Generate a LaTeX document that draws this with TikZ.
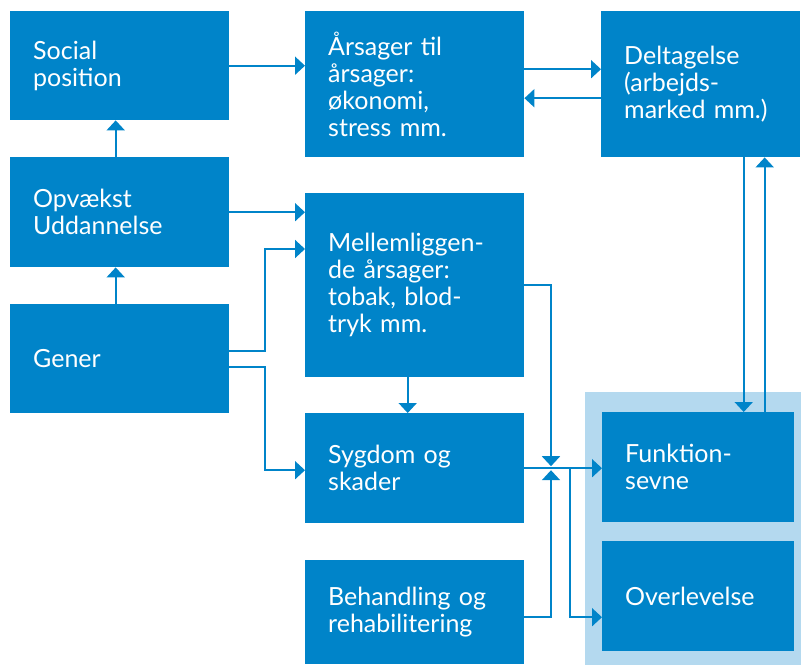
\documentclass[tikz,border=0pt]{standalone}
\usepackage{fontspec}
\setmainfont{Lato}
\usepackage{xcolor}
\usetikzlibrary{calc, arrows.meta, positioning}

\definecolor{boxblue}{RGB}{0,132,201}
\definecolor{paleblue}{RGB}{180,217,239}

\begin{document}
\begin{tikzpicture}[x=1pt, y=-1pt, font=\fontsize{25}{27}\selectfont]
		\tikzstyle{box} = [fill=boxblue, text=white, anchor=north west, rectangle, inner xsep=23pt, inner ysep=0pt, align=left]
		\tikzstyle{arrow} = [draw=boxblue, line width=2pt, -{Triangle[length=10pt, width=18pt]}]

		\useasboundingbox (0, 0) rectangle (801, 665);
		\fill[paleblue] (585, 392) rectangle (801, 665);

		\node[box, text width=173pt, minimum height=109pt]	at (10, 11)		(soc)	{Social\\position};
		\node[box, text width=173pt, minimum height=110pt]	at (10, 157)	(opv)	{Opvækst\\Uddannelse};
		\node[box, text width=173pt, minimum height=109pt]	at (10, 304)	(gen)	{Gener};

		\node[box, text width=173pt, minimum height=146pt]	at (305, 11)	(aars)	{Årsager~til\\årsager:\\økonomi,\\stress~mm.};
		\node[box, text width=173pt, minimum height=184pt]	at (305, 193)	(mel)	{Mellemliggen-\\de~årsager:\\tobak,~blod-\\tryk~mm.};
		\node[box, text width=173pt, minimum height=110pt]	at (305, 413)	(syg)	{Sygdom~og\\skader};
		\node[box, text width=173pt, minimum height=104pt]	at (305, 560)	(beh)	{Behandling~og\\rehabilitering};

		\node[box, text width=153pt, minimum height=146pt]	at (601, 11)	(del)	{Deltagelse\\(arbejds-\\marked~mm.)};
		\node[box, text width=146pt, minimum height=110pt]	at (602, 412)	(fun)	{Funktion-\\sevne};
		\node[box, text width=146pt, minimum height=110pt]	at (602, 541)	(ove)	{Overlevelse};

		\coordinate (gx) at (265, 0);
		\coordinate (jx) at (551, 0);
		\coordinate (bx) at (570, 0);

		\draw [arrow] (soc.east) -- (soc.east -| aars.west);
		\draw [arrow] ([xshift=-4pt]opv.north) -- ([xshift=-4pt]soc.south);
		\draw [arrow] ([xshift=-4pt]gen.north) -- ([xshift=-4pt]opv.south);
		\draw [arrow] (opv.east) -- (opv.east -| mel.west);
		\draw [arrow] ([yshift=8pt]gen.east) -- ([yshift=8pt]gen.east -| gx) |- ([yshift=-56pt]mel.north west);
		\draw [arrow] ([yshift=-8pt]gen.east) -- ([yshift=-8pt]gen.east -| gx) |- ([yshift=-2pt]syg.west);
		\draw [arrow] ([xshift=-7pt]mel.south) -- ([xshift=-7pt]syg.north);

		\draw [arrow] ([yshift=15pt]aars.east) -- ([yshift=15pt]aars.east -| del.west);
		\draw [arrow] ([yshift=-14pt]del.west) -- ([yshift=-14pt]del.west -| aars.east);
		\draw [arrow] ([xshift=43pt]del.south) -- ([xshift=43pt]del.south |- fun.north);
		\draw [arrow] ([xshift=64pt]del.south |- fun.north) -- ([xshift=64pt]del.south);

		\draw [arrow] (syg.east) -- (syg.east -| fun.west);
		\draw [arrow] (mel.east) -| ([yshift=2pt]syg.east -| jx);
		\draw [arrow] ([yshift=-5pt]beh.east) -| ([yshift=-2pt]syg.east -| jx);
		\draw [arrow] (syg.east -| bx) |- ([yshift=-21pt]ove.west);

	\end{tikzpicture}
\end{document}
